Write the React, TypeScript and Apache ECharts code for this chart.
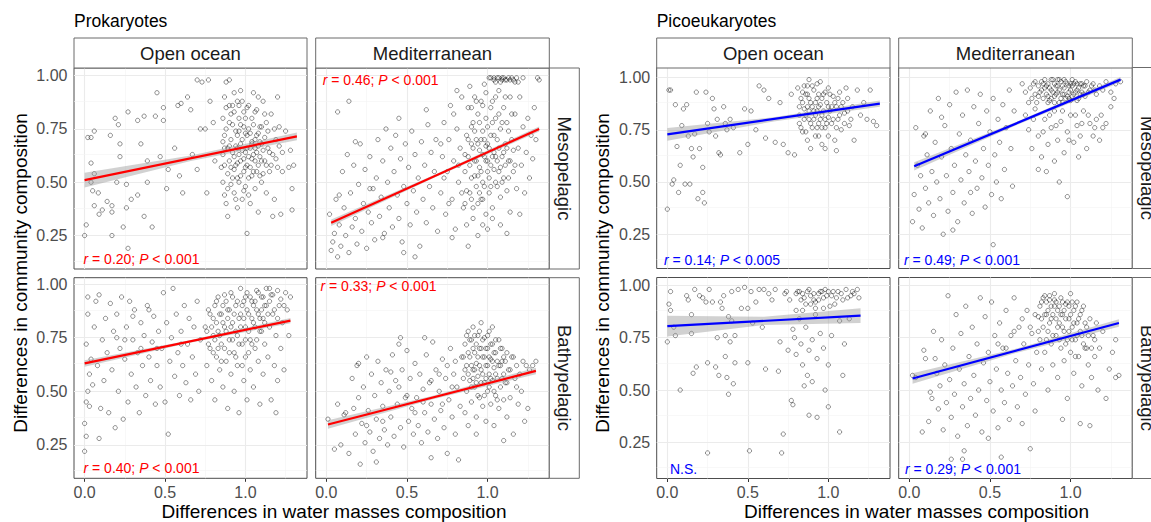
import React, { useEffect, useRef } from "react";
import * as echarts from "echarts";

const xTicks = [0, 0.5, 1.0];
const xMinor = [0.25, 0.75, 1.25];
const yTicks = [0.25, 0.5, 0.75, 1.0];
const yMinor = [0.125, 0.375, 0.625, 0.875];

const groups = ["Prokaryotes", "Picoeukaryotes"];
const columns = ["Open ocean", "Mediterranean"];
const rowNames = ["Mesopelagic", "Bathypelagic"];
const xTitle = "Differences in water masses composition";
const yTitle = "Differences in community composition";

const notes = [
  "{i|r} = 0.20; {i|P} < 0.001",
  "{i|r} = 0.46; {i|P} < 0.001",
  "{i|r} = 0.40; {i|P} < 0.001",
  "{i|r} = 0.33; {i|P} < 0.001",
  "{i|r} = 0.14; {i|P} < 0.005",
  "{i|r} = 0.49; {i|P} < 0.001",
  "N.S.",
  "{i|r} = 0.29; {i|P} < 0.001",
];

// Prokaryotes – Open ocean – Mesopelagic
const prokOceanMeso = [
  [0.0,0.25],[0.01,0.30],[0.02,0.71],[0.04,0.71],[0.06,0.74],[0.04,0.59],[0.06,0.54],[0.04,0.50],[0.05,0.46],[0.085,0.45],
  [0.06,0.39],[0.09,0.35],[0.11,0.37],[0.14,0.41],[0.17,0.39],[0.17,0.25],[0.17,0.36],[0.19,0.80],[0.16,0.72],[0.21,0.77],
  [0.22,0.68],[0.22,0.62],[0.20,0.50],[0.26,0.49],[0.27,0.83],[0.27,0.19],[0.26,0.38],[0.24,0.29],[0.29,0.42],[0.33,0.79],
  [0.37,0.81],[0.33,0.44],[0.39,0.50],[0.37,0.34],[0.42,0.29],[0.35,0.68],[0.39,0.60],[0.45,0.92],[0.44,0.81],[0.49,0.85],
  [0.49,0.79],[0.47,0.62],[0.52,0.56],[0.51,0.47],[0.58,0.86],[0.60,0.87],[0.56,0.66],[0.59,0.53],[0.61,0.45],[0.66,0.84],
  [0.64,0.90],[0.70,0.98],[0.73,0.97],[0.77,0.98],[0.72,0.75],[0.75,0.75],[0.70,0.56],[0.67,0.63],[0.76,0.45],[0.78,0.88],
  [0.80,0.78],[0.81,0.60],[1.01,0.26],
  [0.85,0.57],[0.86,0.63],[0.86,0.50],[0.87,0.44],[0.87,0.72],[0.88,0.85],[0.88,0.40],[0.89,0.66],[0.89,0.54],[0.90,0.78],
  [0.90,0.98],[0.88,0.97],[0.86,0.80],[0.87,0.90],[0.89,0.34],[0.90,0.60],
  [0.91,0.70],[0.92,0.52],[0.92,0.86],[0.93,0.62],[0.93,0.45],[0.94,0.74],[0.94,0.58],[0.95,0.88],[0.95,0.66],[0.96,0.50],
  [0.96,0.80],[0.97,0.93],[0.97,0.60],[0.98,0.42],[0.98,0.70],[0.99,0.55],[0.99,0.83],[1.00,0.64],[1.00,0.48],[0.95,0.38],
  [0.93,0.92],[0.91,0.57],[0.97,0.68],[0.99,0.76],
  [1.01,0.72],[1.01,0.58],[1.02,0.86],[1.02,0.52],[1.03,0.66],[1.03,0.40],[1.04,0.80],[1.04,0.61],[1.05,0.92],[1.05,0.55],
  [1.06,0.70],[1.06,0.47],[1.07,0.64],[1.07,0.84],[1.08,0.58],[1.08,0.36],[1.09,0.76],[1.09,0.62],[1.10,0.68],[1.10,0.50],
  [1.02,0.75],[1.04,0.68],[1.06,0.60],[1.08,0.73],
  [1.11,0.88],[1.12,0.60],[1.13,0.45],[1.13,0.78],[1.14,0.66],[1.15,0.55],[1.16,0.82],[1.17,0.63],[1.18,0.42],[1.19,0.70],
  [1.20,0.57],[1.21,0.76],[1.22,0.35],[1.23,0.64],[1.25,0.74],[1.27,0.57],[1.29,0.47],[1.29,0.37],[1.30,0.58],[1.28,0.65],
  [1.17,0.34],[1.20,0.90],
  [0.86,0.69],[0.87,0.58],[0.88,0.75],[0.89,0.47],[0.90,0.67],[0.91,0.82],[0.91,0.49],[0.92,0.64],[0.92,0.77],[0.93,0.56],
  [0.93,0.83],[0.94,0.67],[0.94,0.42],[0.95,0.72],[0.95,0.59],[0.96,0.86],[0.96,0.63],[0.97,0.53],[0.97,0.77],[0.98,0.65],
  [0.98,0.88],[0.99,0.61],[0.99,0.46],[1.00,0.73],[1.00,0.57],[1.01,0.66],[1.01,0.85],[1.02,0.62],[1.02,0.44],[1.03,0.73],
  [1.03,0.57],[1.04,0.69],[1.04,0.53],[1.05,0.77],[1.05,0.63],[1.06,0.83],[1.06,0.66],[1.07,0.55],[1.07,0.72],[1.08,0.67],
  [1.08,0.90],[1.09,0.53],[1.09,0.69],[1.10,0.76],[1.10,0.60],[1.11,0.65],[1.11,0.54],[1.12,0.71],[1.12,0.82],[1.13,0.58],
  [1.14,0.74],[1.15,0.64],[1.16,0.58],[1.18,0.75],[1.19,0.61],[1.21,0.67],[1.23,0.55],[0.90,0.86],[0.96,0.74],[1.00,0.80],
  [0.87,0.66],[0.95,0.52],
];

// Prokaryotes – Mediterranean – Mesopelagic
const prokMedMeso = [
  [0.02,0.35],[0.03,0.18],[0.04,0.22],[0.05,0.26],[0.06,0.42],[0.07,0.15],[0.08,0.30],[0.09,0.20],[0.10,0.55],[0.11,0.38],
  [0.12,0.25],[0.13,0.63],[0.14,0.17],[0.15,0.45],[0.16,0.29],[0.17,0.58],[0.18,0.33],[0.19,0.21],[0.20,0.49],[0.21,0.68],
  [0.22,0.27],[0.23,0.40],[0.24,0.56],[0.25,0.19],[0.26,0.36],[0.27,0.62],[0.28,0.31],[0.29,0.47],[0.30,0.23],[0.31,0.52],
  [0.32,0.70],[0.33,0.34],[0.34,0.43],[0.35,0.60],[0.36,0.26],[0.37,0.75],[0.38,0.50],[0.39,0.38],[0.40,0.66],[0.41,0.29],
  [0.42,0.55],[0.43,0.72],[0.44,0.44],[0.45,0.33],[0.46,0.61],[0.47,0.22],[0.48,0.48],[0.49,0.68],[0.50,0.40],[0.51,0.57],
  [0.52,0.30],[0.53,0.74],[0.54,0.46],[0.55,0.63],[0.56,0.36],[0.57,0.52],[0.58,0.20],[0.59,0.69],[0.60,0.42],[0.61,0.58],
  [0.62,0.31],[0.63,0.77],[0.64,0.48],[0.65,0.64],[0.66,0.38],[0.67,0.55],[0.68,0.70],[0.69,0.27],[0.14,0.88],[0.27,0.47],
  [0.08,0.44],[0.35,0.24],[0.18,0.69],[0.45,0.80],[0.62,0.84],[0.55,0.15],[0.48,0.17],[0.07,0.83],
  [0.71,0.45],[0.72,0.62],[0.73,0.78],[0.74,0.35],[0.75,0.55],[0.76,0.70],[0.77,0.86],[0.78,0.42],[0.79,0.60],[0.80,0.28],
  [0.81,0.75],[0.82,0.50],[0.83,0.66],[0.84,0.90],[0.85,0.38],[0.73,0.52],[0.76,0.40],[0.79,0.82],[0.82,0.58],[0.84,0.45],
  [0.71,0.68],[0.78,0.24],[0.81,0.93],
  [0.86,0.55],[0.87,0.72],[0.87,0.30],[0.88,0.62],[0.88,0.85],[0.89,0.45],[0.89,0.95],[0.90,0.68],[0.90,0.52],[0.91,0.78],
  [0.91,0.38],[0.92,0.60],[0.92,0.90],[0.93,0.48],[0.93,0.70],[0.94,0.25],[0.94,0.82],[0.95,0.57],[0.95,0.65],[0.96,0.42],
  [0.96,0.88],[0.97,0.74],[0.97,0.50],[0.98,0.62],[0.98,0.96],[0.99,0.35],[0.99,0.80],[1.00,0.55],[1.00,0.68],[0.86,0.40],
  [0.90,0.76],[0.94,0.53],[0.97,0.30],[0.99,0.60],
  [1.01,0.45],[1.01,0.99],[1.02,0.72],[1.02,0.58],[1.03,0.88],[1.03,0.38],[1.04,0.64],[1.04,0.98],[1.05,0.50],[1.05,0.80],
  [1.06,0.99],[1.06,0.70],[1.07,0.55],[1.07,0.93],[1.08,0.43],[1.08,0.75],[1.09,0.99],[1.09,0.62],[1.10,0.85],[1.10,0.52],
  [1.11,0.98],[1.11,0.68],[1.12,0.46],[1.12,0.78],[1.13,0.99],[1.13,0.60],[1.14,0.90],[1.14,0.36],[1.15,0.70],[1.15,0.99],
  [1.03,0.33],[1.08,0.30],[1.12,0.26],[1.05,0.97],
  [1.16,0.55],[1.17,0.82],[1.17,0.97],[1.18,0.47],[1.19,0.66],[1.20,0.90],[1.21,0.58],[1.22,0.76],[1.23,0.45],[1.24,0.64],
  [1.25,0.80],[1.26,0.52],[1.27,0.72],[1.28,0.61],[1.29,0.85],[1.31,0.99],[1.32,0.98],[1.30,0.70],[1.20,0.35],[1.18,0.99],
  [1.22,0.99],
  [0.86,0.63],[0.87,0.46],[0.88,0.70],[0.89,0.58],[0.90,0.85],[0.90,0.42],[0.91,0.66],[0.92,0.74],[0.92,0.53],[0.93,0.88],
  [0.93,0.60],[0.94,0.68],[0.95,0.45],[0.95,0.78],[0.96,0.55],[0.96,0.70],[0.97,0.63],[0.97,0.86],[0.98,0.48],[0.98,0.70],
  [0.99,0.67],[0.99,0.92],[1.00,0.60],[1.00,0.76],[1.01,0.52],[1.01,0.66],[1.02,0.85],[1.02,0.48],[1.03,0.62],[1.03,0.78],
  [1.04,0.56],[1.04,0.72],[1.05,0.62],[1.05,0.90],[1.06,0.48],[1.06,0.60],[1.07,0.66],[1.07,0.82],[1.08,0.57],[1.08,0.97],
  [1.09,0.50],[1.09,0.78],[1.10,0.64],[1.10,0.99],[1.11,0.58],[1.11,0.90],[1.12,0.98],[1.12,0.66],[1.13,0.74],[1.13,0.52],
  [1.14,0.98],[1.14,0.60],[1.15,0.82],[1.16,0.98],[1.16,0.65],[1.17,0.58],[1.19,0.97],[1.02,0.99],[1.04,0.99],[1.07,0.99],
  [1.09,0.98],[0.94,0.40],[0.97,0.42],[0.91,0.33],[1.00,0.28],[0.88,0.20],
];

// Prokaryotes – Open ocean – Bathypelagic
const prokOceanBathy = [
  [0.0,0.22],[0.0,0.35],[0.01,0.29],[0.01,0.45],[0.02,0.50],[0.01,0.72],[0.02,0.86],[0.02,0.94],[0.03,0.58],[0.03,0.43],
  [0.04,0.65],[0.05,0.53],[0.06,0.80],[0.07,0.92],[0.08,0.62],[0.09,0.28],[0.09,0.95],[0.10,0.42],[0.11,0.74],[0.12,0.55],
  [0.13,0.84],[0.14,0.68],[0.15,0.40],[0.16,0.91],[0.17,0.60],[0.18,0.78],[0.19,0.33],[0.20,0.86],[0.21,0.50],[0.22,0.70],
  [0.23,0.94],[0.24,0.37],[0.25,0.65],[0.26,0.80],[0.27,0.45],[0.28,0.92],[0.29,0.58],[0.30,0.74],[0.31,0.88],[0.32,0.52],
  [0.33,0.68],[0.34,0.40],[0.35,0.82],[0.36,0.62],[0.37,0.76],[0.38,0.48],[0.39,0.90],[0.40,0.66],[0.41,0.55],[0.42,0.73],
  [0.43,0.85],[0.44,0.44],[0.45,0.62],[0.46,0.78],[0.47,0.52],[0.48,0.70],[0.49,0.96],[0.50,0.45],[0.51,0.82],[0.52,0.30],
  [0.53,0.64],[0.54,0.75],[0.55,0.98],[0.56,0.57],[0.57,0.86],[0.58,0.68],[0.59,0.48],[0.60,0.78],[0.61,0.62],[0.62,0.90],
  [0.63,0.54],[0.64,0.72],[0.65,0.84],[0.66,0.46],[0.67,0.66],[0.68,0.80],[0.69,0.58],[0.70,0.92],[0.71,0.50],[0.72,0.74],
  [0.75,0.80],[0.76,0.62],[0.77,0.88],[0.78,0.70],[0.79,0.55],[0.80,0.84],[0.80,0.76],[0.81,0.46],[0.82,0.92],[0.82,0.66],
  [0.83,0.78],[0.84,0.60],[0.85,0.86],[0.85,0.72],[0.86,0.52],[0.87,0.95],[0.87,0.80],[0.88,0.64],[0.89,0.88],[0.89,0.42],
  [0.90,0.74],[0.91,0.58],[0.91,0.96],[0.92,0.82],[0.93,0.68],[0.93,0.50],[0.94,0.90],[0.95,0.76],[0.95,0.62],[0.96,0.40],
  [0.97,0.86],[0.97,0.98],[0.98,0.72],[0.99,0.55],[0.99,0.92],[1.00,0.80],[1.00,0.66],[1.01,0.46],[1.01,0.96],[1.02,0.86],
  [1.03,0.74],[1.03,0.60],[1.04,0.92],[1.05,0.82],[1.05,0.52],[1.06,0.70],[1.07,0.97],[1.07,0.88],[1.08,0.64],[1.09,0.78],
  [1.09,0.44],[1.10,0.94],[1.11,0.84],[1.11,0.58],[1.12,0.72],[1.13,0.98],[1.13,0.90],[1.14,0.66],[1.15,0.80],[1.16,0.46],
  [1.16,0.95],[1.17,0.86],[1.18,0.62],[1.19,0.76],[1.20,0.97],[1.20,0.55],[1.21,0.90],[1.22,0.70],[1.23,0.82],[1.24,0.60],
  [1.25,0.96],[1.26,0.88],[1.27,0.76],[1.28,0.94],[1.19,0.40],[1.15,0.98],
  [0.76,0.78],[0.77,0.72],[0.78,0.86],[0.79,0.80],[0.80,0.68],[0.81,0.90],[0.81,0.74],[0.82,0.82],[0.83,0.70],[0.83,0.94],
  [0.84,0.86],[0.84,0.76],[0.85,0.64],[0.86,0.90],[0.86,0.82],[0.87,0.70],[0.88,0.78],[0.88,0.92],[0.89,0.84],[0.90,0.68],
  [0.90,0.88],[0.91,0.80],[0.92,0.74],[0.92,0.94],[0.93,0.86],[0.94,0.78],[0.94,0.66],[0.95,0.92],[0.96,0.84],[0.96,0.72],
  [0.97,0.80],[0.98,0.90],[0.98,0.62],[0.99,0.84],[1.00,0.94],[1.00,0.74],[1.01,0.88],[1.02,0.78],[1.02,0.68],[1.03,0.94],
  [1.04,0.84],[1.04,0.72],[1.05,0.90],[1.06,0.80],[1.06,0.92],[1.07,0.74],[1.08,0.86],[1.08,0.96],[1.09,0.84],[1.10,0.78],
  [1.10,0.88],[1.11,0.94],[1.12,0.82],[1.12,0.90],[1.14,0.86],[1.15,0.92],[1.17,0.95],[1.18,0.88],[1.20,0.84],[1.22,0.93],
  [1.24,0.90],[0.30,0.85],[0.20,0.75],[0.45,0.70],[0.60,0.72],[0.35,0.70],[0.25,0.74],[0.40,0.88],
];

// Prokaryotes – Mediterranean – Bathypelagic
const prokMedBathy = [
  [0.01,0.37],[0.05,0.23],[0.07,0.44],[0.09,0.25],[0.11,0.39],[0.12,0.40],[0.14,0.21],[0.16,0.56],[0.17,0.42],[0.18,0.30],
  [0.19,0.62],[0.20,0.47],[0.21,0.16],[0.22,0.35],[0.23,0.52],[0.24,0.26],[0.25,0.66],[0.26,0.41],[0.27,0.31],[0.28,0.58],
  [0.29,0.22],[0.30,0.48],[0.31,0.37],[0.32,0.64],[0.33,0.28],[0.34,0.54],[0.35,0.43],[0.36,0.32],[0.37,0.60],[0.38,0.25],
  [0.39,0.50],[0.40,0.38],[0.41,0.67],[0.42,0.29],[0.43,0.55],[0.44,0.44],[0.45,0.72],[0.46,0.33],[0.47,0.60],[0.48,0.24],
  [0.49,0.47],[0.50,0.69],[0.51,0.36],[0.52,0.56],[0.53,0.42],[0.54,0.30],[0.55,0.63],[0.56,0.47],[0.57,0.34],[0.58,0.58],
  [0.59,0.26],[0.60,0.51],[0.61,0.40],[0.62,0.67],[0.63,0.31],[0.64,0.54],[0.65,0.44],[0.66,0.73],[0.67,0.37],[0.68,0.60],
  [0.69,0.28],[0.70,0.50],[0.71,0.41],[0.72,0.65],[0.73,0.33],[0.74,0.56],[0.75,0.21],[0.76,0.46],[0.77,0.70],[0.78,0.38],
  [0.79,0.58],[0.80,0.30],[0.81,0.52],[0.82,0.18],[0.83,0.43],[0.84,0.66],[0.46,0.75],[0.61,0.75],[0.20,0.63],[0.40,0.59],
  [0.31,0.17],[0.65,0.19],
  [0.85,0.56],[0.86,0.72],[0.86,0.40],[0.87,0.62],[0.87,0.50],[0.88,0.78],[0.88,0.34],[0.89,0.66],[0.89,0.55],[0.90,0.45],
  [0.90,0.74],[0.91,0.60],[0.91,0.80],[0.92,0.52],[0.92,0.68],[0.93,0.38],[0.93,0.63],[0.94,0.76],[0.94,0.57],[0.95,0.47],
  [0.95,0.70],[0.96,0.82],[0.96,0.60],[0.97,0.43],[0.97,0.66],[0.98,0.54],[0.98,0.75],[0.99,0.36],[0.99,0.62],[1.00,0.70],
  [1.00,0.50],[1.01,0.58],[1.01,0.78],[1.02,0.44],[1.02,0.65],[1.03,0.55],[1.03,0.72],[1.04,0.34],[1.04,0.61],[1.05,0.48],
  [1.05,0.68],[1.06,0.56],[1.07,0.74],[1.07,0.42],[1.08,0.62],[1.08,0.52],[1.09,0.70],[1.10,0.46],[1.10,0.58],[1.11,0.64],
  [1.12,0.38],[1.12,0.54],[1.13,0.60],[1.14,0.47],[1.15,0.66],[1.16,0.30],[1.17,0.56],[1.18,0.62],[1.19,0.44],[1.20,0.58],
  [1.21,0.50],[1.22,0.64],[1.23,0.36],[1.24,0.62],[1.26,0.60],[1.28,0.62],[1.30,0.64],[1.25,0.42],[1.10,0.27],[0.93,0.30],
  [0.85,0.66],[0.86,0.60],[0.87,0.76],[0.88,0.58],[0.88,0.68],[0.89,0.74],[0.90,0.62],[0.90,0.52],[0.91,0.70],[0.91,0.56],
  [0.92,0.76],[0.92,0.60],[0.93,0.72],[0.93,0.54],[0.94,0.66],[0.94,0.48],[0.95,0.62],[0.95,0.78],[0.96,0.70],[0.96,0.54],
  [0.97,0.74],[0.97,0.58],[0.98,0.66],[0.98,0.48],[0.99,0.70],[0.99,0.56],[1.00,0.76],[1.00,0.62],[1.01,0.66],[1.01,0.52],
  [1.02,0.72],[1.02,0.56],[1.03,0.64],[1.03,0.80],[1.04,0.68],[1.04,0.50],[1.05,0.74],[1.05,0.58],[1.06,0.64],[1.06,0.46],
  [1.07,0.62],[1.08,0.70],[1.09,0.56],[1.09,0.64],[1.10,0.66],[1.11,0.54],[1.12,0.68],[1.14,0.60],[1.16,0.66],[1.18,0.52],
  [0.80,0.64],[0.78,0.52],[0.75,0.62],[0.70,0.58],[0.60,0.45],[0.50,0.48],[0.55,0.40],[0.65,0.55],[0.35,0.36],[0.25,0.34],
  [0.45,0.52],[0.72,0.44],
];

// Picoeukaryotes – Open ocean – Mesopelagic
const picoOceanMeso = [
  [0.00,0.37],[0.01,0.94],[0.02,0.94],[0.03,0.49],[0.04,0.51],[0.05,0.87],[0.06,0.67],[0.07,0.45],[0.08,0.58],[0.09,0.77],
  [0.10,0.85],[0.11,0.49],[0.12,0.87],[0.13,0.72],[0.14,0.49],[0.15,0.66],[0.16,0.62],[0.17,0.73],[0.18,0.93],[0.19,0.42],
  [0.20,0.66],[0.22,0.57],[0.22,0.45],[0.23,0.40],[0.24,0.93],[0.25,0.78],[0.26,0.74],[0.28,0.90],[0.29,0.85],[0.30,0.72],
  [0.31,0.80],[0.32,0.64],[0.33,0.63],[0.35,0.86],[0.36,0.78],[0.37,0.75],[0.39,0.80],[0.41,0.76],[0.45,0.64],[0.48,0.85],
  [0.50,0.68],[0.52,0.84],[0.55,0.75],[0.57,0.96],[0.60,0.94],[0.61,0.71],[0.63,0.90],[0.67,0.69],[0.70,0.88],[0.72,0.68],
  [0.75,0.64],[0.77,0.92],[0.79,0.63],
  [0.81,0.95],[0.82,0.86],[0.82,0.78],[0.83,0.90],[0.84,0.74],[0.85,0.85],[0.85,0.96],[0.86,0.82],[0.87,0.70],[0.87,0.92],
  [0.88,0.80],[0.89,0.88],[0.89,0.66],[0.90,0.76],[0.91,0.94],[0.91,0.84],[0.92,0.72],[0.93,0.90],[0.94,0.78],[0.94,0.86],
  [0.95,0.98],[0.96,0.68],[0.96,0.82],[0.97,0.92],[0.98,0.76],[0.99,0.88],[1.00,0.72],[1.00,0.95],[1.01,0.84],[1.02,0.78],
  [1.03,0.91],[1.04,0.70],[1.05,0.86],[1.06,0.80],[1.07,0.93],[1.08,0.75],[1.09,0.88],[1.10,0.83],[1.12,0.90],[1.13,0.77],
  [1.15,0.86],[1.16,0.70],[1.18,0.94],[1.20,0.82],[1.22,0.88],[1.24,0.80],[1.26,0.94],[1.28,0.79],[1.30,0.77],[0.88,0.99],
  [0.98,0.66],[1.05,0.65],[0.93,0.97],[1.11,0.95],
  [0.82,0.82],[0.83,0.76],[0.84,0.88],[0.85,0.80],[0.86,0.92],[0.86,0.74],[0.87,0.86],[0.88,0.84],[0.88,0.90],[0.89,0.78],
  [0.90,0.86],[0.90,0.96],[0.91,0.80],[0.92,0.88],[0.92,0.82],[0.93,0.76],[0.93,0.84],[0.94,0.92],[0.95,0.80],[0.95,0.87],
  [0.96,0.76],[0.96,0.90],[0.97,0.84],[0.98,0.80],[0.98,0.93],[0.99,0.78],[1.00,0.86],[1.00,0.81],[1.01,0.92],[1.02,0.86],
  [1.03,0.80],[1.04,0.88],[1.05,0.76],[1.06,0.90],[1.07,0.82],[1.08,0.86],[1.10,0.78],[1.12,0.84],[1.14,0.80],[0.87,0.96],
  [0.84,0.93],[0.94,0.72],
];

// Picoeukaryotes – Mediterranean – Mesopelagic
const picoMedMeso = [
  [0.02,0.31],[0.03,0.44],[0.04,0.76],[0.05,0.58],[0.06,0.37],[0.07,0.53],[0.08,0.28],[0.09,0.72],[0.10,0.47],[0.11,0.63],
  [0.12,0.40],[0.13,0.84],[0.14,0.55],[0.15,0.34],[0.16,0.69],[0.17,0.50],[0.18,0.90],[0.19,0.42],[0.20,0.62],[0.21,0.25],
  [0.22,0.77],[0.23,0.53],[0.24,0.36],[0.25,0.87],[0.26,0.66],[0.27,0.45],[0.28,0.58],[0.29,0.93],[0.30,0.31],[0.31,0.73],
  [0.32,0.51],[0.33,0.82],[0.34,0.40],[0.35,0.63],[0.36,0.94],[0.37,0.55],[0.38,0.70],[0.39,0.35],[0.40,0.86],[0.41,0.60],
  [0.42,0.47],[0.43,0.78],[0.44,0.92],[0.45,0.52],[0.46,0.66],[0.47,0.38],[0.48,0.84],[0.49,0.58],[0.50,0.74],[0.51,0.44],
  [0.52,0.90],[0.53,0.63],[0.54,0.50],[0.55,0.80],[0.56,0.69],[0.57,0.42],[0.58,0.87],[0.59,0.56],[0.60,0.76],[0.62,0.94],
  [0.63,0.66],[0.64,0.48],[0.65,0.84],[0.20,0.81],[0.10,0.73],[0.27,0.27],[0.38,0.45],[0.52,0.20],
  [0.75,0.95],[0.76,0.90],[0.77,0.97],[0.78,0.92],[0.79,0.88],[0.80,0.96],[0.81,0.93],[0.82,0.98],[0.83,0.90],[0.84,0.95],
  [0.85,0.92],[0.86,0.97],[0.87,0.89],[0.88,0.94],[0.89,0.99],[0.90,0.91],[0.91,0.96],[0.92,0.93],[0.93,0.88],[0.94,0.98],
  [0.95,0.92],[0.96,0.95],[0.97,0.90],[0.98,0.97],[0.99,0.93],[1.00,0.89],[1.01,0.96],[1.02,0.92],[1.03,0.98],[1.04,0.94],
  [1.05,0.90],[1.06,0.97],[1.07,0.93],[1.08,0.96],[1.09,0.91],[1.10,0.98],[1.12,0.94],[1.14,0.97],[1.16,0.92],[1.18,0.96],
  [1.20,0.94],[1.22,0.98],[1.25,0.93],[1.28,0.97],[1.31,0.98],[0.70,0.97],[0.72,0.93],[0.88,0.99],[0.92,0.99],[0.96,0.99],
  [0.84,0.99],
  [0.72,0.82],[0.74,0.75],[0.76,0.66],[0.78,0.85],[0.80,0.72],[0.82,0.62],[0.84,0.80],[0.86,0.68],[0.88,0.76],[0.90,0.84],
  [0.92,0.70],[0.94,0.79],[0.96,0.64],[0.98,0.74],[1.00,0.82],[1.02,0.69],[1.04,0.77],[1.06,0.72],[1.08,0.84],[1.10,0.66],
  [1.12,0.78],[1.14,0.72],[1.16,0.80],[1.18,0.70],[1.20,0.76],[0.85,0.55],[0.90,0.60],[0.98,0.43],[0.93,0.50],[1.05,0.62],
  [0.80,0.56],
  [0.78,0.98],[0.80,0.91],[0.82,0.94],[0.83,0.97],[0.85,0.96],[0.86,0.91],[0.87,0.95],[0.88,0.90],[0.89,0.93],[0.90,0.97],
  [0.91,0.92],[0.92,0.96],[0.93,0.94],[0.94,0.90],[0.95,0.96],[0.96,0.92],[0.97,0.98],[0.98,0.91],[0.99,0.96],[1.00,0.94],
  [1.01,0.91],[1.02,0.97],[1.03,0.93],[1.04,0.97],[1.05,0.95],[1.06,0.92],[1.07,0.97],[1.08,0.92],[1.09,0.96],[1.11,0.93],
  [1.13,0.96],[1.15,0.94],[0.90,0.88],[0.95,0.88],[1.00,0.97],[0.86,0.88],[0.93,0.99],[1.01,0.99],[0.99,0.90],[1.04,0.89],
  [0.74,0.88],[0.77,0.80],[0.83,0.74],[0.87,0.82],[0.91,0.77],[0.95,0.84],[0.99,0.70],[1.03,0.82],[1.07,0.78],[1.11,0.82],
  [1.15,0.76],[1.19,0.82],[1.22,0.78],[1.25,0.86],[1.27,0.90],
];

// Picoeukaryotes – Open ocean – Bathypelagic
const picoOceanBathy = [
  [0.00,0.73],[0.01,0.91],[0.02,0.97],[0.02,0.88],[0.04,0.80],[0.05,0.76],[0.08,0.50],[0.12,0.95],[0.13,0.93],[0.15,0.77],
  [0.15,0.86],[0.16,0.58],[0.17,0.98],[0.18,0.61],[0.20,0.95],[0.22,0.94],[0.24,0.92],[0.25,0.63],[0.25,0.20],[0.26,0.98],
  [0.28,0.92],[0.30,0.61],[0.31,0.75],[0.32,0.57],[0.33,0.92],[0.34,0.89],[0.35,0.95],[0.36,0.66],[0.36,0.76],[0.37,0.56],
  [0.38,0.85],[0.38,0.48],[0.39,0.73],[0.40,0.83],[0.41,0.53],[0.42,0.76],[0.42,0.63],[0.44,0.98],[0.46,0.89],[0.48,0.99],
  [0.50,0.63],[0.50,0.89],[0.51,0.21],[0.52,0.97],[0.53,0.82],[0.55,0.92],[0.57,0.98],[0.59,0.80],[0.61,0.60],[0.63,0.96],
  [0.65,0.93],[0.67,0.98],[0.69,0.59],[0.70,0.73],[0.71,0.20],[0.72,0.29],[0.73,0.96],[0.75,0.69],[0.76,0.93],[0.77,0.45],
  [0.78,0.43],[0.78,0.79],[0.79,0.75],[0.80,0.88],[0.80,0.67],[0.81,0.97],[0.82,0.84],[0.83,0.72],[0.84,0.62],[0.85,0.94],
  [0.85,0.52],[0.86,0.80],[0.87,0.57],[0.88,0.69],[0.88,0.38],[0.89,0.91],[0.90,0.74],[0.90,0.54],[0.91,0.96],[0.92,0.86],
  [0.93,0.65],[0.93,0.37],[0.94,0.93],[0.95,0.77],[0.96,0.97],[0.97,0.70],[0.97,0.89],[0.98,0.50],[0.99,0.95],[1.00,0.62],
  [1.00,0.42],[1.01,0.90],[1.02,0.76],[1.03,0.97],[1.05,0.94],[1.07,0.83],[1.07,0.30],[1.08,0.96],[1.09,0.57],[1.10,0.72],
  [1.11,0.98],[1.12,0.94],[1.13,0.84],[1.15,0.97],[1.16,0.96],[1.18,0.98],[1.19,0.94],[0.84,0.96],[0.86,0.91],[0.82,0.97],
  [0.88,0.98],[0.95,0.97],[0.92,0.92],[0.98,0.98],[1.04,0.91],[0.74,0.97],[0.60,0.98],[0.40,0.97],
  [0.80,0.96],[0.83,0.93],[0.87,0.97],[0.89,0.95],[0.91,0.93],[0.94,0.96],[0.97,0.94],[1.00,0.97],[1.02,0.95],[1.06,0.97],
  [1.09,0.93],[1.14,0.95],[0.84,0.88],[0.92,0.89],
];

// Picoeukaryotes – Mediterranean – Bathypelagic
const picoMedBathy = [
  [0.02,0.57],[0.04,0.56],[0.08,0.30],[0.09,0.69],[0.10,0.65],[0.12,0.35],[0.13,0.49],[0.14,0.46],[0.15,0.78],[0.16,0.65],
  [0.17,0.58],[0.18,0.41],[0.19,0.52],[0.20,0.74],[0.21,0.31],[0.22,0.62],[0.23,0.44],[0.24,0.95],[0.25,0.55],[0.26,0.37],
  [0.27,0.70],[0.28,0.48],[0.29,0.86],[0.30,0.28],[0.31,0.60],[0.32,0.77],[0.33,0.42],[0.34,0.53],[0.35,0.90],[0.36,0.33],
  [0.37,0.66],[0.38,0.46],[0.39,0.80],[0.40,0.57],[0.41,0.38],[0.42,0.72],[0.43,0.50],[0.44,0.94],[0.45,0.30],[0.46,0.63],
  [0.47,0.85],[0.48,0.45],[0.49,0.68],[0.50,0.54],[0.51,0.92],[0.52,0.40],[0.53,0.76],[0.54,0.60],[0.55,0.32],[0.56,0.82],
  [0.57,0.50],[0.58,0.70],[0.59,0.44],[0.60,0.88],[0.61,0.58],[0.62,0.36],[0.63,0.76],[0.64,0.52],[0.65,0.94],[0.66,0.64],
  [0.67,0.42],[0.68,0.80],[0.69,0.56],[0.70,0.34],[0.71,0.72],[0.72,0.48],[0.73,0.88],[0.74,0.62],[0.75,0.22],[0.76,0.77],
  [0.77,0.53],[0.78,0.40],[0.79,0.68],[0.33,0.17],[0.49,0.27],[0.57,0.18],[0.34,0.21],[0.26,0.17],
  [0.80,0.85],[0.81,0.74],[0.82,0.92],[0.82,0.60],[0.83,0.80],[0.84,0.95],[0.84,0.68],[0.85,0.86],[0.86,0.50],[0.86,0.78],
  [0.87,0.93],[0.88,0.72],[0.88,0.84],[0.89,0.62],[0.90,0.90],[0.90,0.96],[0.91,0.76],[0.92,0.56],[0.92,0.88],[0.93,0.82],
  [0.94,0.70],[0.94,0.94],[0.95,0.86],[0.96,0.64],[0.96,0.78],[0.97,0.91],[0.98,0.74],[0.98,0.46],[0.99,0.84],[1.00,0.96],
  [1.00,0.68],[1.01,0.80],[1.02,0.88],[1.02,0.58],[1.03,0.74],[1.04,0.92],[1.04,0.82],[1.05,0.66],[1.06,0.86],[1.07,0.76],
  [1.07,0.52],[1.08,0.90],[1.09,0.70],[1.10,0.80],[1.11,0.62],[1.12,0.84],[1.13,0.56],[1.14,0.76],[1.15,0.66],[1.16,0.82],
  [1.17,0.50],[1.18,0.70],[1.20,0.78],[1.22,0.46],[1.24,0.60],[1.26,0.68],[1.28,0.56],[1.30,0.57],[1.28,0.74],[0.95,0.36],
  [1.06,0.34],[1.12,0.33],
  [0.80,0.78],[0.81,0.90],[0.82,0.84],[0.83,0.94],[0.84,0.86],[0.85,0.92],[0.85,0.74],[0.86,0.88],[0.87,0.82],[0.87,0.95],
  [0.88,0.90],[0.89,0.86],[0.89,0.76],[0.90,0.93],[0.91,0.84],[0.91,0.92],[0.92,0.80],[0.93,0.90],[0.93,0.74],[0.94,0.86],
  [0.95,0.92],[0.95,0.80],[0.96,0.88],[0.97,0.84],[0.97,0.72],[0.98,0.92],[0.99,0.78],[0.99,0.90],[1.00,0.86],[1.01,0.92],
  [1.01,0.74],[1.02,0.82],[1.03,0.90],[1.03,0.66],[1.04,0.76],[1.05,0.84],[1.06,0.78],[1.07,0.88],[1.08,0.72],[1.09,0.82],
  [1.10,0.70],[1.11,0.76],[1.13,0.70],[1.15,0.74],[0.78,0.86],[0.75,0.80],[0.70,0.84],[0.65,0.78],[0.60,0.70],[0.55,0.72],
];

// Fitted lines [x, y] and confidence bands [x, lower, upper]
const prokOceanMesoFit = [[0.0, 0.51], [1.32, 0.715]];
const prokOceanMesoBand = [[0.0, 0.475, 0.545], [0.66, 0.6, 0.625], [1.32, 0.697, 0.733]];
const prokMedMesoFit = [[0.03, 0.31], [1.32, 0.75]];
const prokMedMesoBand = [[0.03, 0.295, 0.325], [0.675, 0.524, 0.536], [1.32, 0.738, 0.762]];
const prokOceanBathyFit = [[0.0, 0.63], [1.28, 0.83]];
const prokOceanBathyBand = [[0.0, 0.615, 0.645], [0.64, 0.724, 0.736], [1.28, 0.818, 0.842]];
const prokMedBathyFit = [[0.01, 0.345], [1.3, 0.595]];
const prokMedBathyBand = [[0.01, 0.325, 0.365], [0.655, 0.462, 0.478], [1.3, 0.58, 0.61]];
const picoOceanMesoFit = [[0.0, 0.728], [1.32, 0.875]];
const picoOceanMesoBand = [[0.0, 0.698, 0.758], [0.66, 0.79, 0.81], [1.32, 0.86, 0.89]];
const picoMedMesoFit = [[0.03, 0.575], [1.31, 0.99]];
const picoMedMesoBand = [[0.03, 0.555, 0.595], [0.67, 0.774, 0.79], [1.31, 0.978, 1.002]];
const picoOceanBathyFit = [[0.0, 0.805], [1.2, 0.855]];
const picoOceanBathyBand = [[0.0, 0.755, 0.855], [0.6, 0.81, 0.85], [1.2, 0.82, 0.89]];
const picoMedBathyFit = [[0.02, 0.555], [1.3, 0.82]];
const picoMedBathyBand = [[0.02, 0.53, 0.58], [0.66, 0.677, 0.697], [1.3, 0.802, 0.838]];

const RED = "#FF0000";
const BLUE = "#0000FF";
const FONT = "'Liberation Sans', Arial, Helvetica, sans-serif";

const panels = [
  { pts: prokOceanMeso, fit: prokOceanMesoFit, band: prokOceanMesoBand, color: RED, g: { left: 74, top: 68, width: 233, height: 201 }, yr: [0.093, 1.036], bx: false, ly: true, nx: 83.5, ny: 258.5 },
  { pts: prokMedMeso, fit: prokMedMesoFit, band: prokMedMesoBand, color: RED, g: { left: 315.7, top: 68, width: 233.6, height: 201 }, yr: [0.093, 1.036], bx: false, ly: false, nx: 322.7, ny: 79.5 },
  { pts: prokOceanBathy, fit: prokOceanBathyFit, band: prokOceanBathyBand, color: RED, g: { left: 74, top: 277.7, width: 233, height: 200.6 }, yr: [0.094, 1.03], bx: true, ly: true, nx: 83.5, ny: 467.5 },
  { pts: prokMedBathy, fit: prokMedBathyFit, band: prokMedBathyBand, color: RED, g: { left: 315.7, top: 277.7, width: 233.6, height: 200.6 }, yr: [0.094, 1.03], bx: true, ly: false, nx: 320.5, ny: 286 },
  { pts: picoOceanMeso, fit: picoOceanMesoFit, band: picoOceanMesoBand, color: BLUE, g: { left: 656.7, top: 67.5, width: 233.3, height: 201 }, yr: [0.086, 1.048], bx: false, ly: true, nx: 664, ny: 259.5 },
  { pts: picoMedMeso, fit: picoMedMesoFit, band: picoMedMesoBand, color: BLUE, g: { left: 898.7, top: 67.5, width: 233.6, height: 201 }, yr: [0.086, 1.048], bx: false, ly: false, nx: 904, ny: 259.5 },
  { pts: picoOceanBathy, fit: picoOceanBathyFit, band: picoOceanBathyBand, color: BLUE, g: { left: 656.7, top: 277.5, width: 233.3, height: 201 }, yr: [0.078, 1.037], bx: true, ly: true, nx: 670, ny: 468.5 },
  { pts: picoMedBathy, fit: picoMedBathyFit, band: picoMedBathyBand, color: BLUE, g: { left: 898.7, top: 277.5, width: 233.6, height: 201 }, yr: [0.078, 1.037], bx: true, ly: false, nx: 905, ny: 468.5 },
];

function buildOption() {
  const grid: any[] = [];
  const xAxis: any[] = [];
  const yAxis: any[] = [];
  const series: any[] = [];
  const graphic: any[] = [];

  const gridLines = [
    ...xTicks.map((v) => ({ xAxis: v, lineStyle: { color: "#EBEBEB", width: 1.1, type: "solid" } })),
    ...xMinor.map((v) => ({ xAxis: v, lineStyle: { color: "#F4F4F4", width: 0.6, type: "solid" } })),
    ...yTicks.map((v) => ({ yAxis: v, lineStyle: { color: "#EBEBEB", width: 1.1, type: "solid" } })),
    ...yMinor.map((v) => ({ yAxis: v, lineStyle: { color: "#F4F4F4", width: 0.6, type: "solid" } })),
  ];

  panels.forEach((p, i) => {
    grid.push({ ...p.g, show: true, backgroundColor: "#fff", borderColor: "#4d4d4d", borderWidth: 1, containLabel: false });
    xAxis.push({
      gridIndex: i, type: "value", min: -0.066, max: 1.383,
      axisLine: { show: false }, splitLine: { show: false },
      axisTick: { show: p.bx, length: 3.5, customValues: xTicks, lineStyle: { color: "#333", width: 1 } },
      axisLabel: { show: p.bx, customValues: xTicks, margin: 6, color: "#4d4d4d", fontSize: 16, fontFamily: FONT, formatter: (v: number) => v.toFixed(1) },
    });
    yAxis.push({
      gridIndex: i, type: "value", min: p.yr[0], max: p.yr[1],
      axisLine: { show: false }, splitLine: { show: false },
      axisTick: { show: p.ly, length: 3.5, customValues: yTicks, lineStyle: { color: "#333", width: 1 } },
      axisLabel: { show: p.ly, customValues: yTicks, margin: 6.5, color: "#4d4d4d", fontSize: 16, fontFamily: FONT, formatter: (v: number) => v.toFixed(2) },
    });
    series.push({
      type: "scatter", xAxisIndex: i, yAxisIndex: i, data: p.pts, symbol: "circle", symbolSize: 4.3, z: 3,
      itemStyle: { color: "rgba(0,0,0,0)", borderColor: "rgba(0,0,0,0.68)", borderWidth: 0.8 },
      silent: true,
      markLine: { silent: true, symbol: ["none", "none"], label: { show: false }, z: 1, data: gridLines, animation: false },
    });
    const band = p.band;
    series.push({
      type: "custom", xAxisIndex: i, yAxisIndex: i, data: band, z: 4, silent: true, clip: true,
      renderItem: (params: any, api: any) => {
        if (params.dataIndex !== 0) return null;
        const lower = band.map((r) => api.coord([r[0], r[1]]));
        const upper = band.map((r) => api.coord([r[0], r[2]])).reverse();
        return { type: "polygon", shape: { points: [...lower, ...upper] }, style: { fill: "rgba(153,153,153,0.45)" } };
      },
    });
    series.push({
      type: "line", xAxisIndex: i, yAxisIndex: i, data: p.fit, showSymbol: false, symbol: "none", z: 5, silent: true,
      lineStyle: { color: p.color, width: 2.2 },
    });
    graphic.push({
      type: "text", x: p.nx, y: p.ny, z: 10, silent: true,
      style: {
        text: notes[i], fill: p.color, font: `14px ${FONT}`, fontSize: 14, fontFamily: FONT,
        textAlign: "left", textVerticalAlign: "middle", align: "left", verticalAlign: "middle",
        rich: { i: { fontStyle: "italic", fill: p.color, fontSize: 14, fontFamily: FONT } },
      },
    });
  });

  const textStyle = (text: string, size: number, color = "#1a1a1a", align = "center") => ({
    text, fill: color, font: `${size}px ${FONT}`, fontSize: size, fontFamily: FONT,
    textAlign: align, textVerticalAlign: "middle", align, verticalAlign: "middle",
  });

  const plots = [
    { x0: 74, c1: [74, 307], c2: [315.7, 549.3], rs: [549.3, 579.3], rows: [[68, 269], [277.7, 478.3]], ytx: 20, xtx: 334 },
    { x0: 656.7, c1: [656.7, 890], c2: [898.7, 1132.3], rs: [1132.3, 1162.3], rows: [[67.5, 268.5], [277.5, 478.5]], ytx: 602.5, xtx: 916.5 },
  ];
  plots.forEach((pl, k) => {
    graphic.push({ type: "text", x: pl.x0, y: 21, silent: true, style: textStyle(groups[k], 17.5, "#000", "left") });
    [pl.c1, pl.c2].forEach((c, j) => {
      graphic.push({ type: "rect", silent: true, z: 8, shape: { x: c[0], y: 38, width: c[1] - c[0], height: 30 }, style: { fill: "#fff", stroke: "#6b6b6b", lineWidth: 1 } });
      graphic.push({ type: "text", silent: true, z: 9, x: (c[0] + c[1]) / 2, y: 53.5, style: textStyle(columns[j], 18.5) });
    });
    pl.rows.forEach((r, j) => {
      graphic.push({ type: "rect", silent: true, z: 8, shape: { x: pl.rs[0], y: r[0], width: pl.rs[1] - pl.rs[0], height: r[1] - r[0] }, style: { fill: "#fff", stroke: "#6b6b6b", lineWidth: 1 } });
      graphic.push({ type: "text", silent: true, z: 9, x: (pl.rs[0] + pl.rs[1]) / 2, y: (r[0] + r[1]) / 2, rotation: -Math.PI / 2, style: textStyle(rowNames[j], 18.5) });
    });
    graphic.push({ type: "text", silent: true, x: pl.ytx, y: 273, rotation: Math.PI / 2, style: textStyle(yTitle, 19, "#000") });
    graphic.push({ type: "text", silent: true, x: pl.xtx, y: 511.5, style: textStyle(xTitle, 19, "#000") });
  });

  return { animation: false, backgroundColor: "#fff", grid, xAxis, yAxis, series, graphic };
}

export default function App() {
  const ref = useRef<HTMLDivElement>(null);
  useEffect(() => {
    if (!ref.current) return;
    const chart = echarts.init(ref.current, undefined, { renderer: "svg" });
    chart.setOption(buildOption() as any);
    return () => chart.dispose();
  }, []);
  return <div ref={ref} style={{ position: "fixed", left: 0, top: 0, width: 1151, height: 522, background: "#fff" }} />;
}
